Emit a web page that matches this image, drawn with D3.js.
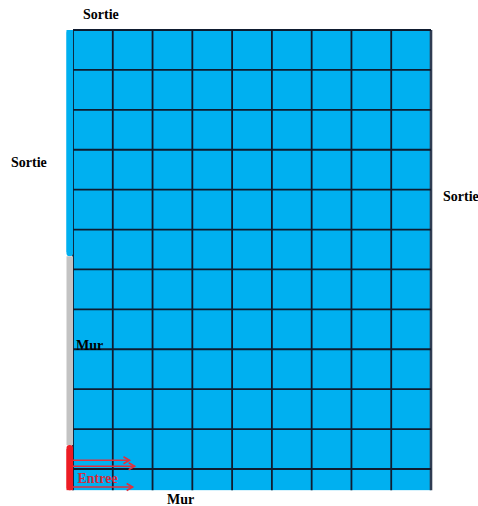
<!DOCTYPE html>
<html><head><meta charset="utf-8">
<script src="https://cdn.jsdelivr.net/npm/d3@7"></script>
<style>html,body{margin:0;padding:0;background:#fff;}svg{display:block;}</style>
</head><body>
<script>
// grid in cell units: 9 columns, 11 full rows + one half row
const colEdges = [0,1,2,3,4,5,6,7,8,9];
const rowEdges = [0,1,2,3,4,5,6,7,8,9,10,11,11.53];
// left boundary segments (in row units)
const leftSegments = [
  {name:"Sortie", from:0, to:5.67, color:"#00b0f0"},
  {name:"Mur", from:5.67, to:10.4, color:"#c3c3c3"},
  {name:"Entree", from:10.4, to:11.53, color:"#ed1c24"}
];
// inflow arrows: row position and length in column units
const arrows = [
  {y:10.78, len:1.42},
  {y:10.93, len:1.55},
  {y:11.45, len:1.50}
];
const labels = [
  {text:"Sortie", x:83, y:19, color:"#000"},
  {text:"Sortie", x:11, y:167, color:"#000"},
  {text:"Sortie", x:443, y:201, color:"#000"},
  {text:"Mur", x:76, y:350, color:"#000"},
  {text:"Mur", x:167, y:504, color:"#000"},
  {text:"Entree", x:77.5, y:483, color:"#d42a3a"}
];

const W = 478, H = 506;
const svg = d3.select("body").append("svg").attr("width", W).attr("height", H);
const x = d3.scaleLinear().domain([0, 9]).range([73, 431]);
const y = d3.scaleLinear().domain([0, 11]).range([30, 469]);
const yMax = rowEdges[rowEdges.length-1];

// cells
const cells = [];
for (let i = 0; i < colEdges.length-1; i++)
  for (let j = 0; j < rowEdges.length-1; j++)
    cells.push({c0:colEdges[i], c1:colEdges[i+1], r0:rowEdges[j], r1:rowEdges[j+1]});
svg.append("g").selectAll("rect").data(cells).join("rect")
  .attr("x", d => x(d.c0)).attr("y", d => y(d.r0))
  .attr("width", d => x(d.c1) - x(d.c0)).attr("height", d => y(d.r1) - y(d.r0))
  .attr("fill", "#00b0f0");

// grid lines
const g = svg.append("g").attr("stroke", "#0f1c30").attr("stroke-width", 1.8);
g.selectAll("line.v").data(colEdges).join("line").attr("class","v")
  .attr("x1", d => x(d)).attr("x2", d => x(d))
  .attr("y1", y(0)).attr("y2", y(yMax))
  .attr("stroke", d => d === 9 ? "#2f3c52" : null)
  .attr("stroke-width", d => d === 9 ? 2.6 : null);
g.selectAll("line.h").data(rowEdges.slice(0, -1)).join("line").attr("class","h")
  .attr("x1", x(0)).attr("x2", x(9))
  .attr("y1", d => y(d)).attr("y2", d => y(d));

// left boundary segments
svg.append("g").selectAll("rect").data(leftSegments).join("rect")
  .attr("x", x(0) - 6.5).attr("width", 6.5)
  .attr("y", d => y(d.from)).attr("height", d => y(d.to) - y(d.from))
  .attr("rx", d => d.name === "Mur" ? 0 : 3)
  .attr("fill", d => d.color);
// square off the joins
svg.append("rect").attr("x", x(0)-6.5).attr("width", 6.5)
  .attr("y", y(leftSegments[2].from)+4).attr("height", y(yMax)-y(leftSegments[2].from)-4)
  .attr("fill", leftSegments[2].color);
svg.append("rect").attr("x", x(0)-6.5).attr("width", 6.5)
  .attr("y", y(0)).attr("height", y(leftSegments[0].to)-y(0)-4)
  .attr("fill", leftSegments[0].color);

// arrows
const ag = svg.append("g").attr("stroke", "#e0303e").attr("stroke-width", 1.6).attr("fill", "none");
arrows.forEach(a => {
  const x1 = x(0), x2 = x(a.len), yy = y(a.y);
  ag.append("line").attr("x1", x1).attr("x2", x2).attr("y1", yy).attr("y2", yy);
  ag.append("path").attr("d", `M${x2-6},${yy-3.5}L${x2},${yy}L${x2-6},${yy+3.5}`);
});

// labels
svg.append("g").selectAll("text").data(labels).join("text")
  .attr("x", d => d.x).attr("y", d => d.y)
  .attr("fill", d => d.color)
  .attr("font-family", "'Liberation Serif', 'Times New Roman', serif")
  .attr("font-weight", "bold").attr("font-size", 14)
  .text(d => d.text);
</script>
</body></html>
